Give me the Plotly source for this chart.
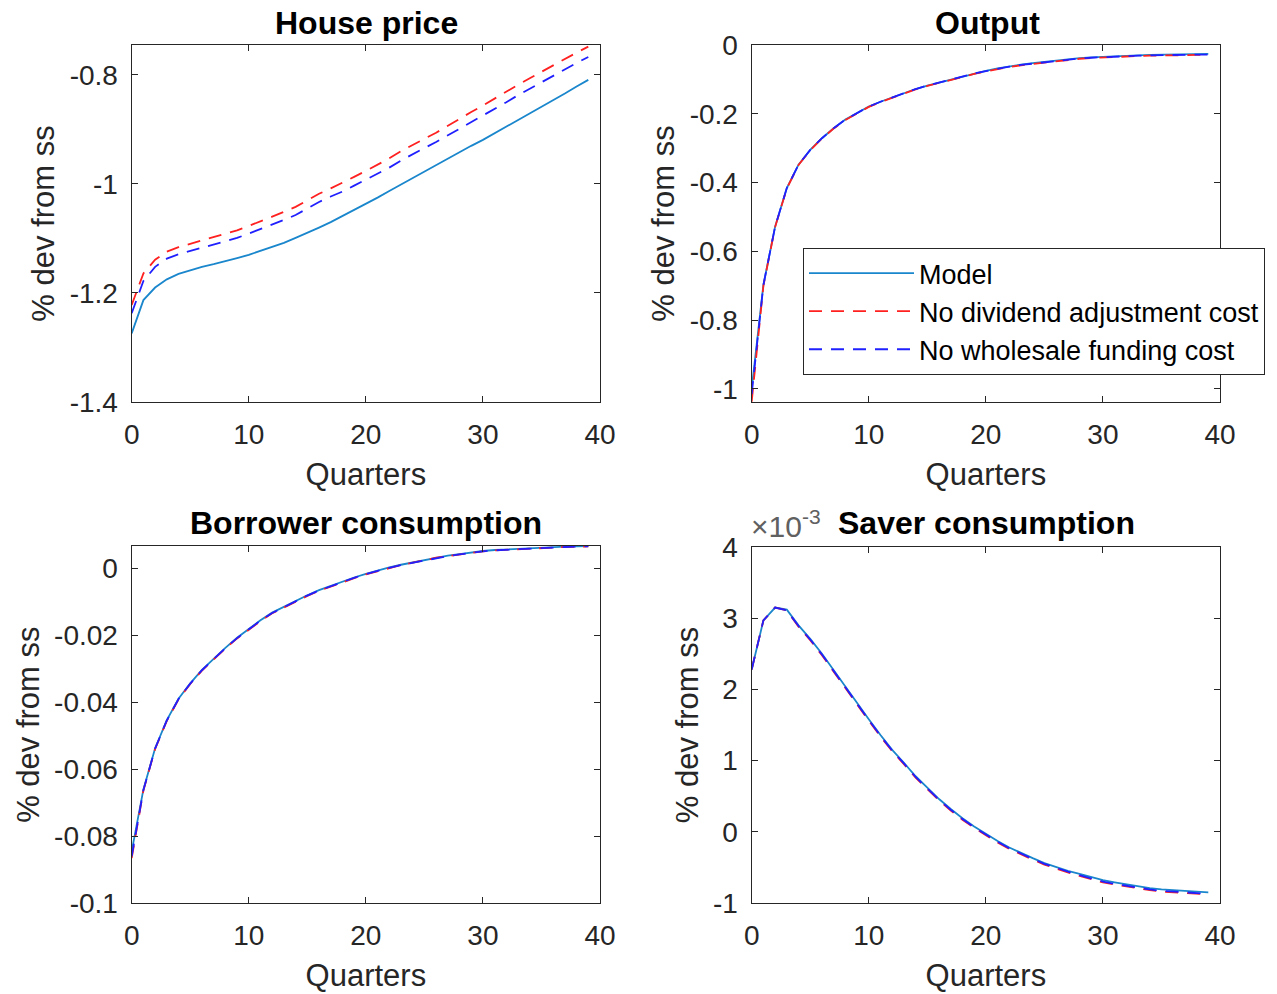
import plotly.graph_objects as go

# ---------------- data ----------------
quarters = list(range(40))

house_model = [-1.274, -1.213, -1.190, -1.175, -1.165, -1.158, -1.152, -1.147, -1.142, -1.136,
               -1.130, -1.123, -1.116, -1.108, -1.099, -1.090, -1.080, -1.070, -1.059, -1.048,
               -1.036, -1.025, -1.013, -1.001, -0.989, -0.977, -0.965, -0.953, -0.942, -0.930,
               -0.919, -0.907, -0.895, -0.883, -0.871, -0.858, -0.846, -0.834, -0.821, -0.809]
house_nodiv = [-1.222, -1.164, -1.139, -1.124, -1.116, -1.110, -1.104, -1.098, -1.092, -1.085,
               -1.077, -1.069, -1.060, -1.051, -1.042, -1.030, -1.018, -1.008, -0.998, -0.987,
               -0.976, -0.965, -0.953, -0.940, -0.928, -0.917, -0.906, -0.893, -0.881, -0.868,
               -0.856, -0.843, -0.831, -0.818, -0.806, -0.794, -0.782, -0.770, -0.759, -0.748]
house_nowhole = [-1.237, -1.178, -1.152, -1.137, -1.129, -1.123, -1.118, -1.112, -1.106, -1.099,
                 -1.091, -1.083, -1.075, -1.066, -1.057, -1.045, -1.033, -1.023, -1.014, -1.003,
                 -0.992, -0.981, -0.970, -0.957, -0.945, -0.934, -0.923, -0.911, -0.899, -0.886,
                 -0.874, -0.862, -0.850, -0.837, -0.825, -0.813, -0.801, -0.789, -0.778, -0.767]

output_model = [-1.000, -0.697, -0.528, -0.416, -0.348, -0.305, -0.271, -0.242, -0.217, -0.198,
                -0.179, -0.165, -0.152, -0.140, -0.128, -0.118, -0.109, -0.100, -0.091, -0.083,
                -0.075, -0.068, -0.062, -0.057, -0.053, -0.049, -0.045, -0.041, -0.038, -0.036,
                -0.034, -0.032, -0.031, -0.030, -0.029, -0.028, -0.027, -0.027, -0.026, -0.026]
output_nodiv = [-1.037, -0.700, -0.529, -0.417, -0.349, -0.306, -0.272, -0.243, -0.218, -0.199,
                -0.180, -0.166, -0.153, -0.141, -0.129, -0.119, -0.110, -0.101, -0.092, -0.084,
                -0.077, -0.070, -0.064, -0.059, -0.055, -0.051, -0.047, -0.043, -0.040, -0.038,
                -0.036, -0.034, -0.033, -0.032, -0.031, -0.030, -0.030, -0.029, -0.029, -0.029]
output_nowhole = [-1.015, -0.698, -0.528, -0.416, -0.348, -0.305, -0.271, -0.242, -0.217, -0.198,
                  -0.179, -0.165, -0.152, -0.140, -0.128, -0.118, -0.109, -0.100, -0.091, -0.083,
                  -0.076, -0.069, -0.063, -0.058, -0.054, -0.050, -0.046, -0.042, -0.039, -0.037,
                  -0.035, -0.033, -0.032, -0.031, -0.030, -0.029, -0.029, -0.028, -0.028, -0.028]

borrower_model = [-0.0845, -0.0660, -0.0537, -0.0453, -0.0389, -0.0343, -0.0303, -0.0269, -0.0237, -0.0207,
                  -0.0180, -0.0155, -0.0132, -0.0114, -0.0097, -0.0080, -0.0065, -0.0052, -0.0039, -0.0027,
                  -0.0016, -0.0006, 0.0003, 0.0011, 0.0018, 0.0026, 0.0033, 0.0038, 0.0043, 0.0048,
                  0.0052, 0.0055, 0.0057, 0.0059, 0.0061, 0.0063, 0.0064, 0.0065, 0.0066, 0.0067]
borrower_nodiv = [-0.0865, -0.0663, -0.0539, -0.0455, -0.0391, -0.0345, -0.0305, -0.0271, -0.0239, -0.0209,
                  -0.0182, -0.0157, -0.0134, -0.0116, -0.0099, -0.0082, -0.0067, -0.0054, -0.0041, -0.0029,
                  -0.0018, -0.0008, 0.0002, 0.0010, 0.0017, 0.0025, 0.0032, 0.0037, 0.0042, 0.0047,
                  0.0051, 0.0054, 0.0056, 0.0058, 0.0060, 0.0062, 0.0063, 0.0064, 0.0065, 0.0066]
borrower_nowhole = [-0.0860, -0.0662, -0.0538, -0.0454, -0.0390, -0.0344, -0.0304, -0.0270, -0.0238, -0.0208,
                    -0.0181, -0.0156, -0.0133, -0.0115, -0.0098, -0.0081, -0.0066, -0.0053, -0.0040, -0.0028,
                    -0.0017, -0.0007, 0.0002, 0.0010, 0.0017, 0.0025, 0.0032, 0.0037, 0.0042, 0.0047,
                    0.0051, 0.0054, 0.0056, 0.0058, 0.0060, 0.0062, 0.0063, 0.0064, 0.0065, 0.0066]

# saver consumption, in units of 10^-3
saver_model = [2.28, 2.97, 3.15, 3.12, 2.90, 2.71, 2.50, 2.27, 2.04, 1.80,
               1.58, 1.36, 1.15, 0.97, 0.78, 0.62, 0.46, 0.32, 0.19, 0.075,
               -0.03, -0.13, -0.22, -0.30, -0.37, -0.44, -0.50, -0.55, -0.59, -0.64,
               -0.68, -0.71, -0.74, -0.77, -0.79, -0.81, -0.82, -0.835, -0.845, -0.85]
saver_nodiv = [2.28, 2.97, 3.15, 3.11, 2.88, 2.69, 2.48, 2.25, 2.02, 1.78,
               1.56, 1.34, 1.13, 0.95, 0.76, 0.60, 0.44, 0.30, 0.17, 0.055,
               -0.05, -0.15, -0.24, -0.32, -0.39, -0.46, -0.52, -0.57, -0.62, -0.67,
               -0.71, -0.74, -0.77, -0.80, -0.82, -0.84, -0.85, -0.865, -0.875, -0.88]
saver_nowhole = [2.28, 2.97, 3.15, 3.11, 2.89, 2.70, 2.49, 2.26, 2.03, 1.79,
                 1.57, 1.35, 1.14, 0.96, 0.77, 0.61, 0.45, 0.31, 0.18, 0.065,
                 -0.04, -0.14, -0.23, -0.31, -0.38, -0.45, -0.51, -0.56, -0.61, -0.66,
                 -0.70, -0.73, -0.76, -0.79, -0.81, -0.83, -0.84, -0.855, -0.865, -0.87]

series_names = ["Model", "No dividend adjustment cost", "No wholesale funding cost"]
panel_titles = ["House price", "Output", "Borrower consumption", "Saver consumption"]
x_ticks = [0, 10, 20, 30, 40]
y_ticks_house = [-1.4, -1.2, -1.0, -0.8]
y_ticklabels_house = ["-1.4", "-1.2", "-1", "-0.8"]
y_ticks_output = [-1.0, -0.8, -0.6, -0.4, -0.2, 0.0]
y_ticklabels_output = ["-1", "-0.8", "-0.6", "-0.4", "-0.2", "0"]
y_ticks_borrower = [-0.1, -0.08, -0.06, -0.04, -0.02, 0.0]
y_ticklabels_borrower = ["-0.1", "-0.08", "-0.06", "-0.04", "-0.02", "0"]
y_ticks_saver = [-1, 0, 1, 2, 3, 4]
y_ticklabels_saver = ["-1", "0", "1", "2", "3", "4"]

# ---------------- styling ----------------
FONT = "Liberation Sans, Arial, Helvetica, sans-serif"
AXC = "#262626"
colors = ["#1a86cc", "#ff2020", "#2020ff"]
dashes = ["solid", "13px,9px", "13px,9px"]
LW = 1.8

W, H = 1277, 994
def px(x):
    return x / W
def py(y):
    return 1 - y / H

dom = {
    "tl": ([px(131.7), px(600)], [py(402), py(45)]),
    "tr": ([px(751.7), px(1220)], [py(402), py(45)]),
    "bl": ([px(131.7), px(600)], [py(903.3), py(546)]),
    "br": ([px(751.7), px(1220)], [py(903), py(547)]),
}

fig = go.Figure()

panels = [
    ("", "", house_model, house_nodiv, house_nowhole),
    ("2", "2", output_model, output_nodiv, output_nowhole),
    ("3", "3", borrower_model, borrower_nodiv, borrower_nowhole),
    ("4", "4", saver_model, saver_nodiv, saver_nowhole),
]
for i, (xs, ys, m, a, b) in enumerate(panels):
    for j, vals in enumerate([m, a, b]):
        fig.add_trace(go.Scatter(
            x=quarters, y=vals, mode="lines",
            name=series_names[j],
            line=dict(color=colors[j], width=LW, dash=dashes[j]),
            xaxis="x" + xs, yaxis="y" + ys,
            showlegend=(i == 1), legendgroup=series_names[j],
        ))

def xax(domain, anchor):
    return dict(domain=domain, anchor=anchor, range=[0, 40], tickvals=x_ticks,
                ticktext=[str(t) for t in x_ticks],
                ticks="inside", ticklen=6, tickwidth=1, tickcolor=AXC,
                showline=True, linecolor=AXC, linewidth=1.3, mirror="ticks",
                showgrid=False, zeroline=False, automargin=False,
                ticklabelstandoff=7,
                tickfont=dict(family=FONT, size=28, color=AXC),
                title=dict(text="Quarters", standoff=14,
                           font=dict(family=FONT, size=31, color=AXC)))

def yax(domain, anchor, rng, tv, tt):
    return dict(domain=domain, anchor=anchor, range=rng, tickvals=tv, ticktext=tt,
                ticks="inside", ticklen=6, tickwidth=1, tickcolor=AXC,
                showline=True, linecolor=AXC, linewidth=1.3, mirror="ticks",
                showgrid=False, zeroline=False, automargin=False,
                ticklabelstandoff=7,
                tickfont=dict(family=FONT, size=28, color=AXC),
                title=dict(text="% dev from ss", standoff=5,
                           font=dict(family=FONT, size=31, color=AXC)))

fig.update_layout(
    width=W, height=H,
    margin=dict(l=0, r=0, t=0, b=0),
    paper_bgcolor="white", plot_bgcolor="white",
    font=dict(family=FONT, color=AXC),
    xaxis=xax(dom["tl"][0], "y"),
    yaxis=yax(dom["tl"][1], "x", [-1.4, -0.745], y_ticks_house, y_ticklabels_house),
    xaxis2=xax(dom["tr"][0], "y2"),
    yaxis2=yax(dom["tr"][1], "x2", [-1.038, 0.0], y_ticks_output, y_ticklabels_output),
    xaxis3=xax(dom["bl"][0], "y3"),
    yaxis3=yax(dom["bl"][1], "x3", [-0.1, 0.0067], y_ticks_borrower, y_ticklabels_borrower),
    xaxis4=xax(dom["br"][0], "y4"),
    yaxis4=yax(dom["br"][1], "x4", [-1, 4], y_ticks_saver, y_ticklabels_saver),
    legend=dict(x=px(803), y=py(248), xanchor="left", yanchor="top",
                bgcolor="white", bordercolor=AXC, borderwidth=1,
                font=dict(family=FONT, size=27, color="#000000"),
                itemwidth=105, tracegroupgap=0),
    showlegend=True,
)

# panel titles
title_pos = [(366, 23), (987, 23), (366, 523), (986, 523)]
for t, (cx, cy) in zip(panel_titles, title_pos):
    fig.add_annotation(text="<b>" + t + "</b>", x=px(cx), y=py(cy), xref="paper", yref="paper",
                       xanchor="center", yanchor="middle", showarrow=False,
                       font=dict(family=FONT, size=32, color="#000000"))

# exponent label of the saver panel
fig.add_annotation(text="×10<sup>-3</sup>", x=px(749), y=py(545), xref="paper", yref="paper",
                   xanchor="left", yanchor="bottom", showarrow=False,
                   font=dict(family=FONT, size=30, color="#606060"))

# remove the default page margin so the figure fills the window exactly
fig.write_html("out.html", config={"displayModeBar": False},
               post_script="document.body.style.margin='0px';")
